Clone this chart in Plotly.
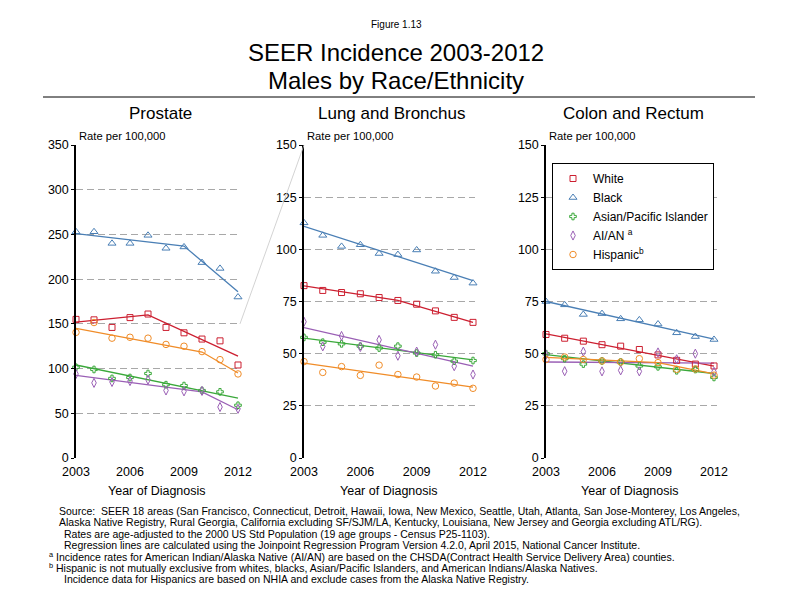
import plotly.graph_objects as go

# ---------------- data ----------------
years = [2003, 2004, 2005, 2006, 2007, 2008, 2009, 2010, 2011, 2012]
race_names = ["White", "Black", "Asian/Pacific Islander", "AI/AN", "Hispanic"]
legend_labels = ["White", "Black", "Asian/Pacific Islander", "AI/AN <sup>a</sup>", "Hispanic<sup>b</sup>"]
x_tick_labels = [2003, 2006, 2009, 2012]

# Prostate observed rates
prostate_white = [155, 154.5, 146, 157, 161, 146, 140, 133, 131, 104]
prostate_black = [253, 253, 240, 240, 249, 234.5, 236, 218.5, 212, 180]
prostate_api = [101.5, 99, 89, 90, 94.5, 82, 81, 75.5, 74, 59]
prostate_aian = [94, 84, 85, 86, 87.5, 75.5, 74.5, 75, 57, 55]
prostate_hisp = [140.5, 151.5, 134, 135, 134, 127, 125, 119, 110, 94]
# Prostate joinpoint fits (year, value) at segment ends
prostate_white_fit_x = [2003, 2007, 2012]
prostate_white_fit = [152, 160, 114]
prostate_black_fit_x = [2003, 2009, 2012]
prostate_black_fit = [251, 237, 186]
prostate_api_fit_x = [2003, 2012]
prostate_api_fit = [104, 67]
prostate_aian_fit_x = [2003, 2010, 2012]
prostate_aian_fit = [92.5, 74, 54]
prostate_hisp_fit_x = [2003, 2010, 2012]
prostate_hisp_fit = [145, 118.5, 95]

# Lung and Bronchus observed rates
lung_white = [82.6, 80.3, 79.3, 78.7, 76.9, 75.5, 73.7, 70.5, 67.4, 65]
lung_black = [112.7, 106.7, 101.4, 102.2, 98, 97.5, 99.7, 89.5, 86.5, 83.8]
lung_api = [57.8, 55.5, 54.7, 53.6, 52.7, 53.6, 50.3, 49.5, 46.4, 46.7]
lung_aian = [65.3, 53.5, 58.5, 53.2, 56.6, 49, 51, 54.3, 44, 40]
lung_hisp = [46.2, 41, 43.8, 39.6, 44.5, 40, 38.8, 34.5, 35.9, 33.4]
lung_white_fit_x = [2003, 2008, 2012]
lung_white_fit = [82.5, 75.5, 65]
lung_black_fit_x = [2003, 2012]
lung_black_fit = [111, 85]
lung_api_fit_x = [2003, 2012]
lung_api_fit = [57.5, 47]
lung_aian_fit_x = [2003, 2012]
lung_aian_fit = [62.5, 44]
lung_hisp_fit_x = [2003, 2012]
lung_hisp_fit = [45.5, 34]

# Colon and Rectum observed rates
colon_white = [59.2, 57.4, 56, 54.3, 53.6, 52, 49.4, 46.8, 45, 44.1]
colon_black = [75, 73.4, 68.8, 69.2, 66.7, 66.2, 64.2, 60, 58.2, 56.8]
colon_api = [50, 47.6, 45, 46.5, 46, 44.1, 43.7, 41.8, 42.4, 38.6]
colon_aian = [49.5, 41.6, 51, 41.5, 42, 41.5, 50.6, 47.3, 50, 41.3]
colon_hisp = [47.2, 48.4, 47.2, 46.5, 46, 47.6, 45.7, 42.5, 42.7, 39.7]
colon_white_fit_x = [2003, 2012]
colon_white_fit = [59.5, 44]
colon_black_fit_x = [2003, 2012]
colon_black_fit = [75, 57]
colon_api_fit_x = [2003, 2012]
colon_api_fit = [49.5, 40.5]
colon_aian_fit_x = [2003, 2012]
colon_aian_fit = [46, 45.5]
colon_hisp_fit_x = [2003, 2009, 2012]
colon_hisp_fit = [48.2, 45.7, 40.3]

footer_lines = [
    "Source:  SEER 18 areas (San Francisco, Connecticut, Detroit, Hawaii, Iowa, New Mexico, Seattle, Utah, Atlanta, San Jose-Monterey, Los Angeles,",
    "Alaska Native Registry, Rural Georgia, California excluding SF/SJM/LA, Kentucky, Louisiana, New Jersey and Georgia excluding ATL/RG).",
    "Rates are age-adjusted to the 2000 US Std Population (19 age groups - Census P25-1103).",
    "Regression lines are calculated using the Joinpoint Regression Program Version 4.2.0, April 2015, National Cancer Institute.",
    "<sup>a</sup> Incidence rates for American Indian/Alaska Native (AI/AN) are based on the CHSDA(Contract Health Service Delivery Area) counties.",
    "<sup>b</sup> Hispanic is not mutually exclusive from whites, blacks, Asian/Pacific Islanders, and American Indians/Alaska Natives.",
    "Incidence data for Hispanics are based on NHIA and exclude cases from the Alaska Native Registry.",
]

# ---------------- styles ----------------
W, H = 792, 612
FONT = "Arial, Liberation Sans, sans-serif"
colors = ["#cc1f30", "#4a7fb5", "#3aa83a", "#9a5fb5", "#f08c28"]
symbols = ["square-open", "triangle-up-open", "cross-open", "diamond-tall-open", "circle-open"]
msizes = [6, 7, 5.5, 6.5, 6.5]


def px(x):
    return x / W


def py(y):
    return 1 - y / H


Y0_PX, Y1_PX = 458, 145  # pixel rows of y=0 and y=max

panels = [
    dict(title="Prostate", p0=76, p12=238, pr=240, ymax=350, dtick=50,
         obs=[prostate_white, prostate_black, prostate_api, prostate_aian, prostate_hisp],
         fx=[prostate_white_fit_x, prostate_black_fit_x, prostate_api_fit_x, prostate_aian_fit_x, prostate_hisp_fit_x],
         fy=[prostate_white_fit, prostate_black_fit, prostate_api_fit, prostate_aian_fit, prostate_hisp_fit]),
    dict(title="Lung and Bronchus", p0=304, p12=473, pr=475, ymax=150, dtick=25,
         obs=[lung_white, lung_black, lung_api, lung_aian, lung_hisp],
         fx=[lung_white_fit_x, lung_black_fit_x, lung_api_fit_x, lung_aian_fit_x, lung_hisp_fit_x],
         fy=[lung_white_fit, lung_black_fit, lung_api_fit, lung_aian_fit, lung_hisp_fit]),
    dict(title="Colon and Rectum", p0=546, p12=714, pr=717, ymax=150, dtick=25,
         obs=[colon_white, colon_black, colon_api, colon_aian, colon_hisp],
         fx=[colon_white_fit_x, colon_black_fit_x, colon_api_fit_x, colon_aian_fit_x, colon_hisp_fit_x],
         fy=[colon_white_fit, colon_black_fit, colon_api_fit, colon_aian_fit, colon_hisp_fit]),
]

fig = go.Figure()
annotations = []
shapes = []

for i, p in enumerate(panels):
    n = "" if i == 0 else str(i + 1)
    xa, ya = "x" + n, "y" + n
    for k in range(5):
        fig.add_trace(go.Scatter(
            x=p["fx"][k], y=p["fy"][k], mode="lines", xaxis=xa, yaxis=ya,
            line=dict(color=colors[k], width=1.3), showlegend=False,
            hoverinfo="skip", cliponaxis=False))
    for k in range(5):
        fig.add_trace(go.Scatter(
            x=years, y=p["obs"][k], mode="markers", xaxis=xa, yaxis=ya,
            name=legend_labels[k], legendgroup=race_names[k], showlegend=(i == 2),
            marker=dict(symbol=symbols[k], size=msizes[k], color=colors[k],
                        line=dict(color=colors[k], width=1)),
            cliponaxis=False))

    xend = 2012 + 9 * (p["pr"] - p["p12"]) / (p["p12"] - p["p0"])
    fig.layout["xaxis" + n] = dict(
        domain=[px(p["p0"]), px(p["pr"])], range=[2003, xend], anchor=ya,
        tickmode="array", tickvals=x_tick_labels, ticks="", showline=False,
        showgrid=False, zeroline=False, ticklabelstandoff=4,
        tickfont=dict(family=FONT, size=12.5, color="black"))
    fig.layout["yaxis" + n] = dict(
        domain=[py(Y0_PX), py(Y1_PX)], range=[0, p["ymax"]], anchor=xa,
        dtick=p["dtick"], tick0=0, ticks="outside", ticklen=3, tickwidth=1,
        tickcolor="black", showline=True, linecolor="black", linewidth=1.5,
        showgrid=True, gridcolor="#a8a8a8", gridwidth=1, griddash="7px,4px",
        zeroline=False, tickfont=dict(family=FONT, size=12.5, color="black"))

    cx = (p["p0"] + p["p12"]) / 2
    annotations.append(dict(text=p["title"], x=px(cx + 3), y=py(113), xref="paper", yref="paper",
                            showarrow=False, font=dict(family=FONT, size=17, color="black"),
                            xanchor="center", yanchor="middle"))
    annotations.append(dict(text="Rate per 100,000", x=px(p["p0"] + 1), y=py(136), xref="paper", yref="paper",
                            showarrow=False, font=dict(family=FONT, size=11.2, color="black"),
                            xanchor="left", yanchor="middle"))
    annotations.append(dict(text="Year of Diagnosis", x=px(cx), y=py(491), xref="paper", yref="paper",
                            showarrow=False, font=dict(family=FONT, size=12.5, color="black"),
                            xanchor="center", yanchor="middle"))

# connector between prostate 150 level and lung axis top
pp, lp = panels[0], panels[1]
shapes.append(dict(type="line", xref="paper", yref="paper",
                   x0=px(pp["pr"]), y0=py(Y0_PX - (Y0_PX - Y1_PX) * lp["ymax"] / pp["ymax"]),
                   x1=px(lp["p0"]), y1=py(Y1_PX), line=dict(color="#c8c8c8", width=0.8)))
# rule under title
shapes.append(dict(type="line", xref="paper", yref="paper", x0=px(43), x1=px(755), y0=py(97), y1=py(97),
                   line=dict(color="black", width=1)))

annotations.append(dict(text="Figure 1.13", x=px(396), y=py(25), xref="paper", yref="paper", showarrow=False,
                        font=dict(family=FONT, size=10, color="black"), xanchor="center", yanchor="middle"))
annotations.append(dict(text="SEER Incidence 2003-2012", x=px(396), y=py(52), xref="paper", yref="paper",
                        showarrow=False, font=dict(family=FONT, size=24, color="black"),
                        xanchor="center", yanchor="middle"))
annotations.append(dict(text="Males by Race/Ethnicity", x=px(396), y=py(81), xref="paper", yref="paper",
                        showarrow=False, font=dict(family=FONT, size=24, color="black"),
                        xanchor="center", yanchor="middle"))

footer_x = [57, 57, 62, 62, 47, 47, 62]
for j, line in enumerate(footer_lines):
    annotations.append(dict(text=line, x=px(footer_x[j]), y=py(511 + 11.3 * j), xref="paper", yref="paper",
                            showarrow=False, font=dict(family=FONT, size=10.5, color="black"),
                            xanchor="left", yanchor="middle"))

fig.update_layout(
    width=W, height=H, margin=dict(l=0, r=0, t=0, b=0, autoexpand=False),
    paper_bgcolor="white", plot_bgcolor="white",
    annotations=annotations, shapes=shapes,
    showlegend=True,
    legend=dict(x=px(552), y=py(163), xanchor="left", yanchor="top",
                bordercolor="black", borderwidth=1, bgcolor="white",
                font=dict(family=FONT, size=12, color="black"), tracegroupgap=0,
                itemclick=False),
    font=dict(family=FONT, color="black"),
)

fig.write_html("out.html", config={"displayModeBar": False},
               post_script="document.body.style.margin='0';")
